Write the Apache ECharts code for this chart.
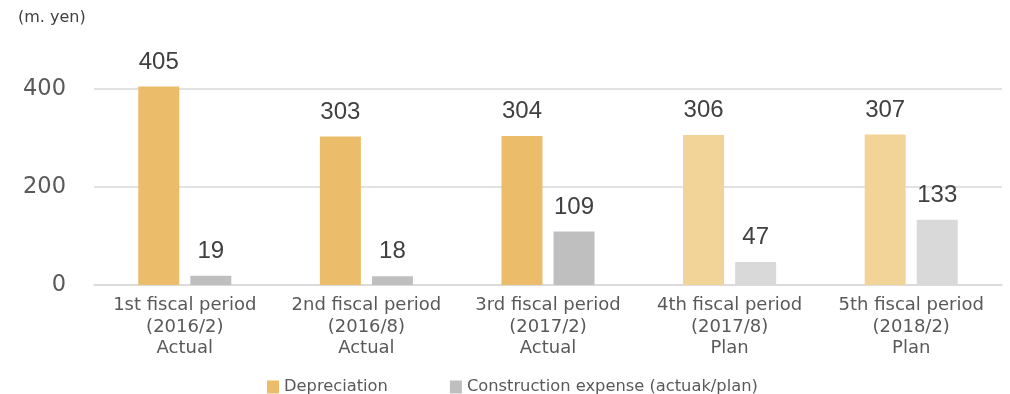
<!DOCTYPE html>
<html>
<head>
<meta charset="utf-8">
<script src="https://cdn.jsdelivr.net/npm/echarts@6/dist/echarts.min.js"></script>
<style>html,body{margin:0;padding:0;background:#fff}#c{width:1010px;height:394px}</style>
</head>
<body>
<div id="c"></div>
<script>
const categories = ['1st fiscal period\n(2016/2)\nActual','2nd fiscal period\n(2016/8)\nActual','3rd fiscal period\n(2017/2)\nActual','4th fiscal period\n(2017/8)\nPlan','5th fiscal period\n(2018/2)\nPlan'];
const depreciation = [405, 303, 304, 306, 307];
const construction = [19, 18, 109, 47, 133];
const isPlan = [false, false, false, true, true];
const yTicks = [0, 200, 400];

const colors = {
  depActual: '#EBBC69', depPlan: '#F3D498',
  conActual: '#BFBFBF', conPlan: '#D9D9D9'
};
const font = '"DejaVu Sans", Verdana, sans-serif';
const numFont = '"Liberation Sans", Arial, sans-serif';

function items(vals, actualColor, planColor) {
  return vals.map((v, i) => ({ value: v, itemStyle: { color: isPlan[i] ? planColor : actualColor } }));
}

const chart = echarts.init(document.getElementById('c'));
chart.setOption({
  animation: false,
  grid: { left: 94, right: 8, top: 64.5, bottom: 109, containLabel: false },
  title: { text: '(m. yen)', left: 18, top: 10, padding: 0, textStyle: { fontFamily: font, fontSize: 16, fontWeight: 'normal', color: '#404040' } },
  legend: {
    top: 379, left: 267, padding: 0, itemWidth: 12, itemHeight: 13, itemGap: 62,
    icon: 'rect',
    textStyle: { fontFamily: font, fontSize: 16.3, color: '#595959' },
    data: [
      { name: 'Depreciation', itemStyle: { color: colors.depActual } },
      { name: 'Construction expense (actuak/plan)', itemStyle: { color: colors.conActual } }
    ]
  },
  xAxis: {
    type: 'category', data: categories,
    axisLine: { lineStyle: { color: '#D9D9D9', width: 1.5 } },
    axisTick: { show: false },
    axisLabel: { fontFamily: font, fontSize: 18, color: '#595959', lineHeight: 21.5, margin: 10, interval: 0 }
  },
  yAxis: {
    type: 'value', min: 0, max: 450, interval: 200,
    axisLine: { show: false }, axisTick: { show: false },
    splitLine: { showMaxLine: false, lineStyle: { color: '#D9D9D9', width: 1.5 } },
    axisLabel: { fontFamily: font, fontSize: 22.5, color: '#595959', margin: 28, showMaxLabel: false,
      padding: [0, 0, 5, 0],
      formatter: v => yTicks.includes(v) ? String(v) : '' }
  },
  series: [
    { name: 'Depreciation', type: 'bar', barWidth: 41, barGap: '27%',
      data: items(depreciation, colors.depActual, colors.depPlan),
      label: { show: true, position: 'top', distance: 12.5, fontFamily: numFont, fontSize: 24, color: '#404040' } },
    { name: 'Construction expense (actuak/plan)', type: 'bar', barWidth: 41,
      data: items(construction, colors.conActual, colors.conPlan),
      label: { show: true, position: 'top', distance: 12.5, fontFamily: numFont, fontSize: 24, color: '#404040' } }
  ]
});
</script>
</body>
</html>
